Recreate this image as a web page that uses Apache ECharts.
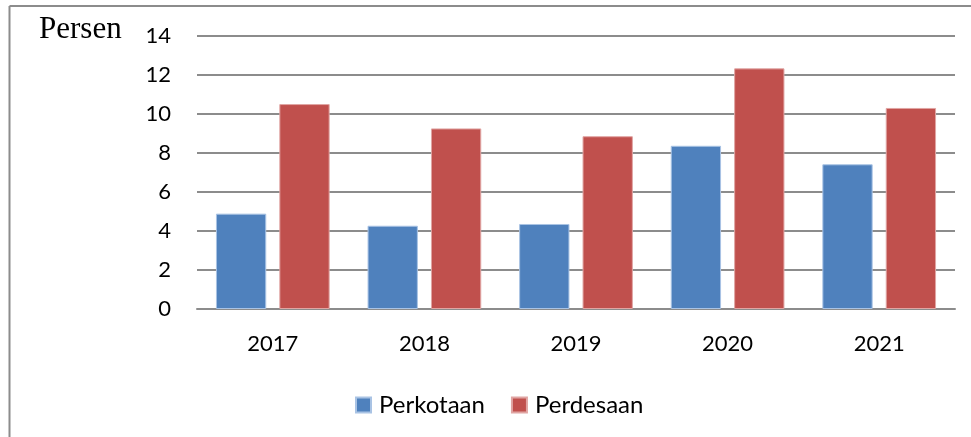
<!DOCTYPE html>
<html>
<head>
<meta charset="utf-8">
<script src="https://cdn.jsdelivr.net/npm/echarts@6/dist/echarts.min.js"></script>
<style>
html,body{margin:0;padding:0;background:#fff;}
#chart{width:971px;height:437px;}
</style>
</head>
<body>
<div id="chart"></div>
<script>
const categories = ['2017', '2018', '2019', '2020', '2021'];
const perkotaan = [4.89, 4.27, 4.36, 8.37, 7.42];
const perdesaan = [10.51, 9.26, 8.86, 12.34, 10.31];
const yTicks = { min: 0, max: 14, interval: 2 };
const seriesNames = ['Perkotaan', 'Perdesaan'];
const unitLabel = 'Persen';

const chart = echarts.init(document.getElementById('chart'));
const gridColor = '#8c8c8c';
chart.setOption({
  animation: false,
  backgroundColor: '#ffffff',
  title: {
    text: unitLabel,
    left: 39,
    top: 14,
    padding: 0,
    textStyle: { fontFamily: 'Liberation Serif', fontSize: 31, fontWeight: 'normal', color: '#000' }
  },
  legend: {
    data: seriesNames,
    left: 355,
    top: 393,
    padding: 0,
    itemWidth: 15,
    itemHeight: 15,
    itemGap: 26,
    icon: 'rect',
    textStyle: { fontFamily: 'Lato', fontSize: 24, color: '#000', padding: [0, 0, 0, 3] }
  },
  grid: { left: 197, right: 16, top: 36, bottom: 128, containLabel: false },
  xAxis: {
    type: 'category',
    data: categories,
    axisLine: { show: true, lineStyle: { color: gridColor, width: 2 } },
    axisTick: { show: false },
    axisLabel: { fontFamily: 'Lato', fontSize: 22, color: '#000', margin: 24 }
  },
  yAxis: {
    type: 'value',
    min: yTicks.min,
    max: yTicks.max,
    interval: yTicks.interval,
    axisLine: { show: false },
    axisTick: { show: false },
    axisLabel: { fontFamily: 'Lato', fontSize: 22, color: '#000', margin: 26 },
    splitLine: { show: true, lineStyle: { color: gridColor, width: 2 } }
  },
  series: [
    {
      name: seriesNames[0],
      type: 'bar',
      data: perkotaan,
      barGap: '26%',
      barCategoryGap: '25%',
      itemStyle: { color: '#4F81BD', borderColor: '#a9c3e4', borderWidth: 1 }
    },
    {
      name: seriesNames[1],
      type: 'bar',
      data: perdesaan,
      barGap: '26%',
      barCategoryGap: '25%',
      itemStyle: { color: '#C0504D', borderColor: '#e0a5a3', borderWidth: 1 }
    }
  ],
  graphic: [
    { type: 'line', shape: { x1: 9.5, y1: 6, x2: 971, y2: 6 }, style: { stroke: '#8c8c8c', lineWidth: 2 } },
    { type: 'line', shape: { x1: 9.5, y1: 6, x2: 9.5, y2: 437 }, style: { stroke: '#8c8c8c', lineWidth: 2 } }
  ]
});
</script>
</body>
</html>
